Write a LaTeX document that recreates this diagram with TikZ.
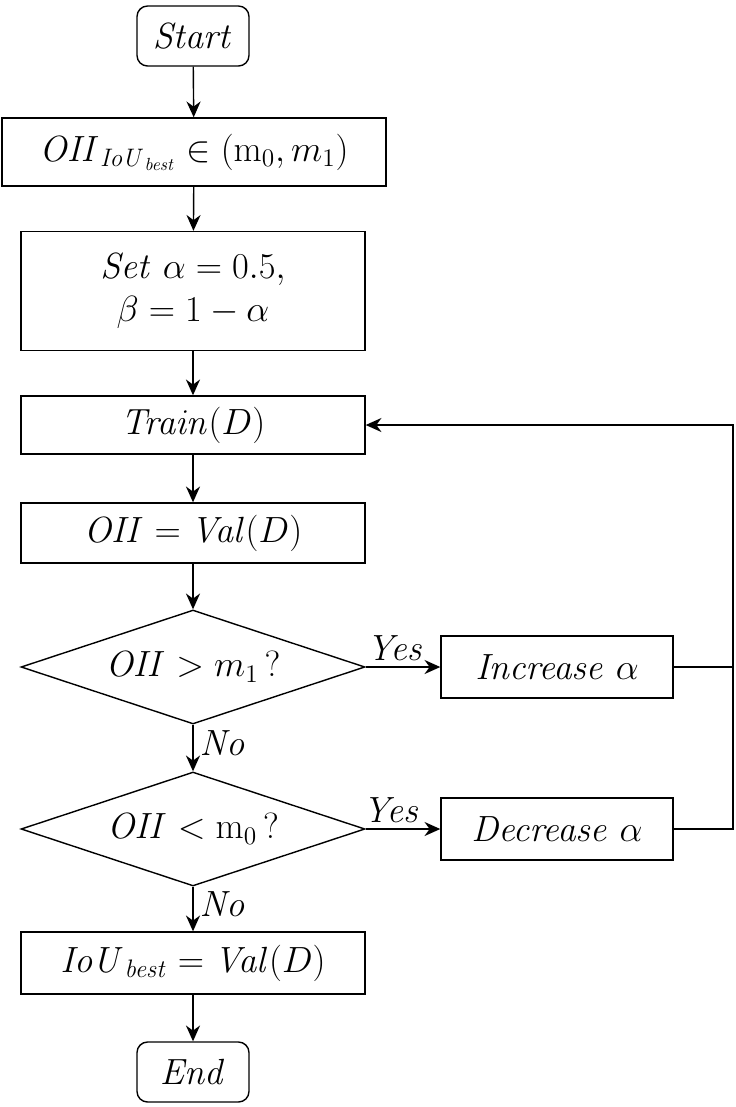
\documentclass[tikz,border=0pt]{standalone}
\usepackage{amsmath}
\usetikzlibrary{arrows.meta,shapes.geometric}
\tikzset{
  box/.style={draw, thick, minimum width=6.88cm, minimum height=1.2cm, font=\fontsize{20}{24}\selectfont},
  term/.style={draw, thick, rounded corners=6pt, minimum width=2.24cm, minimum height=1.2cm, font=\fontsize{20}{24}\selectfont},
  test/.style={draw, thick, diamond, aspect=3.02, minimum width=6.88cm, minimum height=2.28cm, inner sep=0pt, font=\fontsize{20}{24}\selectfont},
  lab/.style={font=\fontsize{20}{24}\selectfont},
  flow/.style={-{Stealth[length=9pt,width=8pt]}, thick}
}
\begin{document}
\begin{tikzpicture}[x=0.02cm, y=-0.02cm]
  \useasboundingbox (0,0) rectangle (735,1107);

  % Ablauf
  \node[term] (start) at (193,36) {$\mathit{Start}$};
  \node[box, minimum width=7.68cm, minimum height=1.36cm] (range) at (194,152) {$\mathit{OII}_{\mathit{IoU}_{\mathit{best}}}\in(\mathrm{m}_0,m_1)$};
  \node[box, minimum height=2.38cm, align=center] (init) at (193,291) {$\mathit{Set}\ \alpha=0.5,$\\$\beta=1-\alpha$};
  \node[box, minimum height=1.16cm] (train) at (193,425) {$\mathit{Train}(D)$};
  \node[box] (val) at (193,533) {$\mathit{OII}=\mathit{Val}(D)$};
  \node[test] (upper) at (193,667) {$\mathit{OII}>m_1\,?$};
  \node[box, minimum width=4.64cm, minimum height=1.24cm] (inc) at (557,667) {$\mathit{Increase}\ \alpha$};
  \node[test] (lower) at (193,829) {$\mathit{OII}<\mathrm{m}_0\,?$};
  \node[box, minimum width=4.64cm, minimum height=1.24cm] (dec) at (557,829) {$\mathit{Decrease}\ \alpha$};
  \node[box, minimum height=1.24cm] (best) at (193,963) {$\mathit{IoU}_{\mathit{best}}=\mathit{Val}(D)$};
  \node[term] (end) at (193,1072) {$\mathit{End}$};

  % Pfeile
  \draw[flow] (start) -- (range);
  \draw[flow] (range) -- (init);
  \draw[flow] (init) -- (train);
  \draw[flow] (train) -- (val);
  \draw[flow] (val) -- (upper);
  \draw[flow] (upper) -- node[lab, above, pos=0.4] {$\mathit{Yes}$} (inc);
  \draw[flow] (upper) -- node[lab, right, pos=0.4] {$\mathit{No}$} (lower);
  \draw[flow] (lower) -- node[lab, above, pos=0.35] {$\mathit{Yes}$} (dec);
  \draw[flow] (lower) -- node[lab, right, pos=0.4] {$\mathit{No}$} (best);
  \draw[flow] (best) -- (end);

  % Rueckfuehrung
  \coordinate (loop) at (733,425);
  \draw[thick] (inc.east) -- (inc.east -| loop);
  \draw[flow] (dec.east) -- (dec.east -| loop) -- (loop) -- (train.east);
\end{tikzpicture}
\end{document}
